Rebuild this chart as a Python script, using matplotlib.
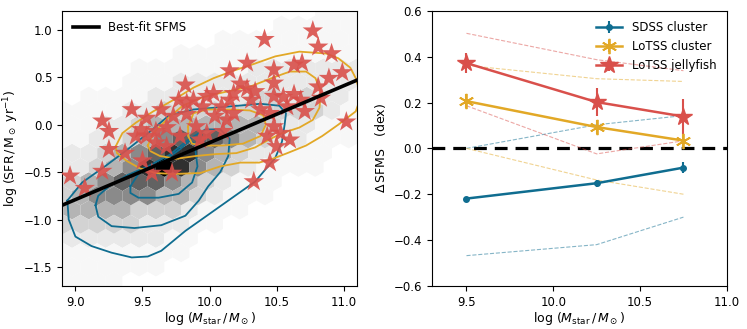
import matplotlib.pyplot as plt
import matplotlib.colors as mcolors
import numpy as np

# colours
c_blue = '#0f6d90'
c_gold = '#e2a826'
c_red = '#d9504b'

# ---- left panel data ----
# best-fit SFMS:  log SFR = slope*(logM - 10) + icpt
sfms_slope = 0.60
sfms_icpt = -0.19
sfms_x = [8.9, 11.1]

# jellyfish galaxies (stars)
jf_x = [10.77, 10.41, 10.81, 10.91, 10.28, 10.63, 10.69, 10.15, 10.48, 10.99,
        10.89, 9.82, 10.48, 10.23, 10.28, 10.34, 10.81, 9.98, 10.03, 9.88,
        9.77, 9.83, 10.15, 10.48, 10.55, 10.63, 10.68, 10.83, 9.42, 9.64,
        9.95, 10.09, 10.18, 10.38, 10.45, 9.53, 9.20, 9.73, 9.83, 10.04,
        10.13, 10.71, 11.02, 9.25, 9.49, 9.45, 9.60, 9.68, 9.90, 9.98,
        10.10, 10.48, 10.53, 10.43, 10.60, 9.25, 9.37, 9.68, 10.50, 10.45,
        9.20, 8.96, 9.57, 9.72, 9.07, 10.33, 9.50, 9.78, 9.60, 9.93,
        10.18, 10.58, 10.31, 9.53]
jf_y = [0.99, 0.90, 0.82, 0.75, 0.65, 0.63, 0.65, 0.57, 0.58, 0.55,
        0.49, 0.42, 0.44, 0.43, 0.38, 0.35, 0.40, 0.30, 0.33, 0.26,
        0.26, 0.23, 0.26, 0.30, 0.29, 0.32, 0.26, 0.28, 0.16, 0.16,
        0.19, 0.19, 0.12, 0.16, 0.12, 0.07, 0.04, 0.09, 0.11, 0.09,
        0.05, 0.14, 0.03, -0.07, -0.05, -0.12, -0.07, -0.03, -0.02, -0.09,
        -0.07, -0.02, -0.09, -0.12, -0.16, -0.26, -0.30, -0.23, -0.23, -0.40,
        -0.49, -0.54, -0.51, -0.51, -0.67, -0.60, -0.38, -0.12, -0.19, -0.16,
        0.33, 0.19, 0.26, -0.12]

# SDSS field galaxies, hexbin shading levels (rows top -> bottom)
hex_top = 1.2
hex_dy = 0.15
hex_x0 = 8.85
hex_dx = 0.125
hex_levels = [
    [0, 0, 0, 0, 0, 0, 0, 0, 0, 0, 0, 0, 0, 0, 0, 0, 1, 1, 1],
    [0, 0, 0, 0, 0, 0, 0, 0, 0, 0, 0, 0, 0, 1, 1, 1, 1, 1, 1],
    [0, 0, 0, 0, 0, 0, 0, 0, 0, 0, 1, 1, 1, 1, 1, 1, 1, 1, 1],
    [0, 0, 0, 0, 0, 0, 0, 1, 1, 1, 1, 1, 1, 1, 1, 1, 1, 1, 1],
    [0, 0, 0, 0, 0, 1, 1, 1, 1, 1, 1, 1, 2, 2, 2, 2, 2, 2, 2],
    [0, 0, 0, 0, 1, 1, 1, 2, 2, 2, 2, 2, 2, 2, 2, 2, 2, 2, 2],
    [0, 0, 1, 1, 1, 1, 2, 2, 2, 2, 2, 2, 3, 3, 2, 3, 2, 2, 1],
    [1, 1, 1, 1, 2, 2, 3, 3, 3, 3, 3, 3, 3, 3, 3, 3, 2, 1, 1],
    [1, 1, 1, 2, 2, 3, 4, 4, 4, 4, 4, 4, 4, 3, 2, 2, 1, 1, 1],
    [1, 1, 2, 2, 3, 4, 5, 6, 6, 6, 5, 4, 3, 2, 2, 1, 1, 1, 0],
    [2, 2, 2, 3, 4, 5, 6, 7, 7, 5, 4, 3, 2, 2, 1, 1, 1, 0, 0],
    [2, 2, 3, 4, 5, 7, 8, 7, 5, 4, 3, 2, 1, 1, 1, 1, 0, 0, 0],
    [3, 3, 4, 5, 6, 6, 6, 5, 4, 3, 2, 1, 1, 1, 0, 0, 0, 0, 0],
    [3, 4, 5, 5, 5, 5, 4, 4, 3, 2, 1, 1, 1, 0, 0, 0, 0, 0, 0],
    [4, 4, 4, 4, 4, 3, 3, 3, 2, 1, 1, 1, 0, 0, 0, 0, 0, 0, 0],
    [3, 3, 3, 3, 3, 2, 2, 2, 1, 1, 0, 0, 0, 0, 0, 0, 0, 0, 0],
    [2, 2, 2, 2, 2, 2, 2, 1, 1, 0, 0, 0, 0, 0, 0, 0, 0, 0, 0],
    [1, 1, 1, 1, 1, 1, 1, 1, 0, 0, 0, 0, 0, 0, 0, 0, 0, 0, 0],
    [1, 1, 1, 1, 1, 1, 1, 0, 0, 0, 0, 0, 0, 0, 0, 0, 0, 0, 0],
    [1, 1, 1, 1, 0, 0, 0, 0, 0, 0, 0, 0, 0, 0, 0, 0, 0, 0, 0],
]

# density contours (SDSS cluster = blue, LoTSS cluster = gold)
blue_c1 = [(8.94, -0.80), (9.05, -0.61), (9.22, -0.44), (9.39, -0.26), (9.55, -0.08),
           (9.70, 0.10), (9.88, 0.16), (10.13, 0.19), (10.38, 0.22), (10.52, 0.20),
           (10.57, 0.12), (10.56, 0.0), (10.54, -0.18), (10.49, -0.35), (10.34, -0.60),
           (10.05, -0.89), (9.82, -1.12), (9.64, -1.33), (9.54, -1.39), (9.42, -1.40),
           (9.27, -1.35), (9.12, -1.28), (9.00, -1.18), (8.95, -1.0), (8.94, -0.80)]
blue_c2 = [(9.15, -0.85), (9.17, -0.75), (9.25, -0.65), (9.39, -0.53), (9.54, -0.44),
           (9.70, -0.32), (9.85, -0.15), (9.97, -0.05), (10.08, -0.05), (10.15, -0.15),
           (10.14, -0.33), (10.08, -0.50), (9.99, -0.65), (9.92, -0.80), (9.82, -0.96),
           (9.64, -1.06), (9.44, -1.09), (9.27, -1.07), (9.17, -0.97), (9.15, -0.85)]
blue_c3 = [(9.41, -0.65), (9.47, -0.52), (9.56, -0.45), (9.66, -0.38), (9.78, -0.26),
           (9.85, -0.17), (9.89, -0.20), (9.90, -0.33), (9.91, -0.44), (9.87, -0.61),
           (9.77, -0.73), (9.62, -0.77), (9.47, -0.77), (9.41, -0.72), (9.41, -0.65)]
gold_c1 = [(9.30, -0.23), (9.35, -0.09), (9.45, 0.02), (9.58, 0.14), (9.73, 0.26),
           (9.88, 0.39), (10.03, 0.49), (10.18, 0.57), (10.33, 0.64), (10.49, 0.72),
           (10.67, 0.77), (10.87, 0.75), (10.96, 0.70), (11.05, 0.60), (11.09, 0.49),
           (11.13, 0.30), (11.09, 0.14), (10.96, 0.0), (10.84, -0.12), (10.72, -0.22),
           (10.58, -0.30), (10.47, -0.36), (10.37, -0.40), (10.23, -0.40), (10.08, -0.44),
           (9.93, -0.51), (9.73, -0.52), (9.60, -0.51), (9.48, -0.46), (9.38, -0.38),
           (9.31, -0.30), (9.30, -0.23)]
gold_c2 = [(9.54, -0.22), (9.58, -0.09), (9.70, 0.08), (9.80, 0.20), (9.95, 0.29),
           (10.10, 0.34), (10.30, 0.40), (10.48, 0.50), (10.60, 0.56), (10.72, 0.56),
           (10.79, 0.49), (10.83, 0.35), (10.82, 0.18), (10.77, 0.05), (10.67, -0.03),
           (10.54, -0.09), (10.44, -0.16), (10.34, -0.24), (10.20, -0.30), (10.05, -0.31),
           (9.90, -0.33), (9.75, -0.36), (9.63, -0.33), (9.56, -0.28), (9.54, -0.22)]
gold_c3 = [(9.84, -0.02), (9.88, 0.12), (9.98, 0.16), (10.15, 0.16), (10.30, 0.15),
           (10.40, 0.10), (10.42, 0.0), (10.38, -0.12), (10.25, -0.20), (10.10, -0.22),
           (9.95, -0.22), (9.87, -0.20), (9.84, -0.12), (9.84, -0.02)]

# ---- right panel data ----
mbins = [9.5, 10.25, 10.75]
sdss_d = [-0.219, -0.152, -0.084]
sdss_err = [0.008, 0.015, 0.025]
sdss_hi = [0.0, 0.103, 0.143]
sdss_lo = [-0.468, -0.42, -0.30]
lc_d = [0.206, 0.093, 0.034]
lc_err = [0.03, 0.03, 0.03]
lc_hi = [0.362, 0.304, 0.292]
lc_lo = [0.0, -0.138, -0.20]
jf_d = [0.372, 0.202, 0.139]
jf_err = [0.045, 0.06, 0.075]
jf_hi = [0.502, 0.387, 0.339]
jf_lo = [0.186, -0.024, 0.033]

plt.rcParams['font.size'] = 8.5
fig = plt.figure(figsize=(7.47, 3.29), dpi=100)
ax1 = fig.add_axes([0.083, 0.131, 0.395, 0.836])
ax2 = fig.add_axes([0.578, 0.131, 0.395, 0.836])

# hexbin background
hx, hy, hc = [], [], []
for r, row in enumerate(hex_levels):
    off = 0.5 * hex_dx if r % 2 == 1 else 0.0
    for i, v in enumerate(row):
        if v > 0:
            hx.append(hex_x0 + off + i * hex_dx)
            hy.append(hex_top - r * hex_dy)
            hc.append(v)
ax1.hexbin(hx, hy, C=hc, gridsize=(20, 10), extent=(8.85, 11.35, -1.8, 1.2),
           reduce_C_function=np.max, cmap='Greys',
           norm=mcolors.PowerNorm(gamma=1.3, vmin=0, vmax=8.0),
           edgecolors='none', linewidths=0, zorder=1)

for cont in [blue_c1, blue_c2, blue_c3]:
    xs, ys = zip(*cont)
    ax1.plot(xs, ys, color=c_blue, lw=1.3, zorder=2)
for cont in [gold_c1, gold_c2, gold_c3]:
    xs, ys = zip(*cont)
    ax1.plot(xs, ys, color=c_gold, lw=1.3, zorder=2)

ax1.scatter(jf_x, jf_y, marker='*', s=240, color=c_red, alpha=0.9,
            edgecolors='none', zorder=3)

lx = np.array(sfms_x)
ax1.plot(lx, sfms_slope * (lx - 10) + sfms_icpt, color='k', lw=2.6,
         label='Best-fit SFMS', zorder=4)
ax1.legend(loc='upper left', frameon=False, fontsize=8.5, handlelength=2.2)

ax1.set_xlim(8.9, 11.1)
ax1.set_ylim(-1.7, 1.2)
ax1.set_xticks([9.0, 9.5, 10.0, 10.5, 11.0])
ax1.set_yticks([-1.5, -1.0, -0.5, 0.0, 0.5, 1.0])
ax1.set_xlabel(r'log ($M_{\rm star}\,/\,M_\odot$)', fontsize=9, labelpad=1)
ax1.set_ylabel(r'log (SFR$\,/\,\mathrm{M}_\odot$ yr$^{-1}$)', fontsize=9, labelpad=2)

# right panel
ax2.axhline(0, color='k', ls='--', lw=2.3, dashes=(4, 2.5), zorder=1)
for hi, lo, c in [(sdss_hi, sdss_lo, c_blue), (lc_hi, lc_lo, c_gold), (jf_hi, jf_lo, c_red)]:
    ax2.plot(mbins, hi, color=c, ls='--', lw=0.8, alpha=0.5, zorder=1)
    ax2.plot(mbins, lo, color=c, ls='--', lw=0.8, alpha=0.5, zorder=1)

ax2.errorbar(mbins, sdss_d, yerr=sdss_err, color=c_blue, marker='o', ms=4,
             lw=1.8, elinewidth=1.5, capsize=0, label='SDSS cluster', zorder=3)
ax2.errorbar(mbins, lc_d, yerr=lc_err, color=c_gold, marker=(6, 2, 0), ms=11, mew=1.3,
             lw=1.8, elinewidth=1.5, capsize=0, label='LoTSS cluster', zorder=3)
ax2.errorbar(mbins, jf_d, yerr=jf_err, color=c_red, marker='*', ms=13,
             lw=1.8, elinewidth=1.5, capsize=0, label='LoTSS jellyfish', zorder=3)
ax2.legend(loc='upper right', frameon=False, fontsize=8.5, handlelength=2.2)

ax2.set_xlim(9.3, 11.0)
ax2.set_ylim(-0.6, 0.6)
ax2.set_xticks([9.5, 10.0, 10.5, 11.0])
ax2.set_yticks([-0.6, -0.4, -0.2, 0.0, 0.2, 0.4, 0.6])
ax2.set_xlabel(r'log ($M_{\rm star}\,/\,M_\odot$)', fontsize=9, labelpad=1)
ax2.set_ylabel(r'$\Delta\,$SFMS   (dex)', fontsize=9)

fig.savefig('out.png', dpi=100)
